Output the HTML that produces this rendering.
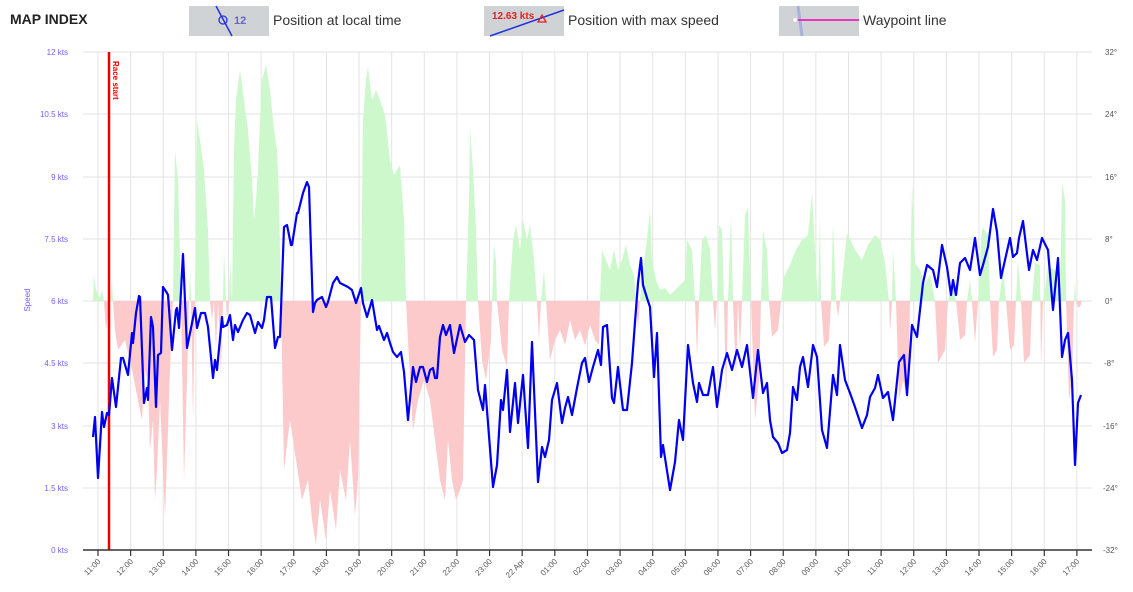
<!DOCTYPE html>
<html><head><meta charset="utf-8"><style>
html,body{margin:0;padding:0;background:#fff;width:1133px;height:592px;overflow:hidden;font-family:"Liberation Sans",sans-serif}
</style></head><body>
<svg width="1133" height="592" viewBox="0 0 1133 592" xmlns="http://www.w3.org/2000/svg" font-family="Liberation Sans, sans-serif">
<text x="10" y="24" font-size="14" font-weight="bold" fill="#222">MAP INDEX</text>
<rect x="189" y="6" width="80" height="30" fill="#cfd3d6"/>
<line x1="216" y1="6" x2="232" y2="36" stroke="#2233dd" stroke-width="1.5"/>
<circle cx="223" cy="20" r="4" fill="none" stroke="#2233dd" stroke-width="1.3"/>
<text x="234" y="24" font-size="11" font-weight="bold" fill="#6666cc">12</text>
<text x="273" y="25" font-size="14" fill="#333">Position at local time</text>
<rect x="484" y="6" width="80" height="30" fill="#cfd3d6"/>
<line x1="490" y1="36" x2="564" y2="10" stroke="#2233dd" stroke-width="1.5"/>
<text x="492" y="19" font-size="10" font-weight="bold" fill="#dd2222">12.63 kts</text>
<path d="M538 22 L542 15 L546 22 Z" fill="none" stroke="#dd2222" stroke-width="1.3"/>
<text x="568" y="25" font-size="14" fill="#333">Position with max speed</text>
<rect x="779" y="6" width="80" height="30" fill="#cfd3d6"/>
<line x1="798" y1="6" x2="802" y2="36" stroke="#aab0dd" stroke-width="3"/>
<line x1="776" y1="20" x2="1" y2="20" stroke="none"/>
<line x1="795" y1="20" x2="859" y2="20" stroke="#ee33bb" stroke-width="2"/>
<circle cx="795" cy="20" r="2.5" fill="#fff" stroke="#ccc"/>
<text x="863" y="25" font-size="14" fill="#333">Waypoint line</text>

<g stroke="#e3e3e3" stroke-width="1">
<line x1="83" y1="52" x2="1092" y2="52"/><line x1="83" y1="114" x2="1092" y2="114"/>
<line x1="83" y1="177" x2="1092" y2="177"/><line x1="83" y1="239" x2="1092" y2="239"/>
<line x1="83" y1="301" x2="1092" y2="301"/><line x1="83" y1="363" x2="1092" y2="363"/>
<line x1="83" y1="426" x2="1092" y2="426"/><line x1="83" y1="488" x2="1092" y2="488"/>
<g id="vg"></g>
</g>
<g id="vgrid" stroke="#e3e3e3"></g>
<defs>
<clipPath id="up"><rect x="83" y="40" width="1010" height="261"/></clipPath>
<clipPath id="dn"><rect x="83" y="301" width="1010" height="260"/></clipPath>
</defs>
<g id="areas"></g>
<line x1="109" y1="52" x2="109" y2="550" stroke="#ee0000" stroke-width="2.5"/>
<text transform="translate(113,61) rotate(90)" font-size="8" font-weight="bold" fill="#ee0000">Race start</text>
<g id="ylab" font-size="8" fill="#7060ff" text-anchor="end">
<text x="68" y="55">12 kts</text><text x="68" y="117">10.5 kts</text><text x="68" y="180">9 kts</text><text x="68" y="242">7.5 kts</text><text x="68" y="304">6 kts</text><text x="68" y="366">4.5 kts</text><text x="68" y="429">3 kts</text><text x="68" y="491">1.5 kts</text><text x="68" y="553">0 kts</text>
</g>
<g font-size="8" fill="#555">
<text x="1105" y="55">32°</text><text x="1105" y="117">24°</text><text x="1105" y="180">16°</text><text x="1105" y="242">8°</text><text x="1105" y="304">0°</text><text x="1104" y="366">-8°</text><text x="1103" y="429">-16°</text><text x="1103" y="491">-24°</text><text x="1103" y="553">-32°</text>
</g>
<text transform="translate(30,300) rotate(-90)" font-size="8" fill="#7060ff" text-anchor="middle">Speed</text>
<line x1="83" y1="550" x2="1092" y2="550" stroke="#333" stroke-width="1.5"/>
<g id="xt"></g>
<polyline id="spd" fill="none" stroke="#0000ee" stroke-width="2.2" stroke-linejoin="round" points="93,437 95,417 98,478 102,412 104,427 107,413 109,415 112,378 116,407 121,358 123,358 128,375 132,333 133,343 136,313 139,296 140,297 144,403 147,388 148,400 151,317 153,327 156,407 158,355 161,353 163,287 167,293 168,295 172,350 176,310 177,308 179,328 183,254 187,348 190,333 195,308 197,328 201,313 205,313 208,327 213,378 215,360 217,370 222,317 223,327 227,325 230,315 233,340 235,325 238,332 243,320 247,313 250,315 255,333 258,322 262,328 264,320 267,297 271,297 275,348 278,337 280,337 284,227 287,225 291,245 292,245 297,213 298,213 303,193 307,182 309,187 313,312 315,303 317,300 322,297 326,307 328,302 333,283 337,277 340,283 344,285 348,287 352,290 356,303 361,288 363,303 367,317 372,300 377,330 379,326 384,340 387,333 390,343 393,352 397,357 401,352 404,372 408,420 413,367 416,382 420,367 423,367 427,382 430,370 433,368 435,378 437,378 440,337 443,325 446,335 450,325 454,353 460,325 465,342 469,335 474,340 478,390 483,410 485,385 488,423 493,487 497,465 501,400 503,410 507,370 510,432 515,383 518,423 523,375 528,448 532,342 538,482 542,447 545,457 549,440 552,400 557,383 562,423 565,408 568,397 572,415 577,388 582,363 585,358 589,382 593,367 598,350 601,365 603,327 607,325 612,398 614,403 618,367 623,410 627,410 632,363 635,322 638,283 641,258 643,285 647,298 650,307 654,377 657,333 661,457 663,445 670,490 675,462 679,420 683,440 688,345 693,383 697,402 699,383 703,395 708,395 713,367 717,407 722,370 727,353 732,370 737,350 742,367 747,345 753,398 758,350 763,393 767,383 770,420 773,437 778,443 782,453 787,450 790,433 793,387 797,400 800,367 803,357 808,387 813,345 817,357 822,430 827,448 833,375 837,395 840,345 845,380 850,393 855,407 862,428 867,415 870,397 875,388 878,375 883,398 888,392 893,420 899,362 904,355 907,395 912,325 917,337 923,283 927,265 933,270 937,287 942,245 947,267 951,295 953,280 956,295 960,263 965,258 970,270 975,238 980,275 983,265 988,247 993,209 997,232 1001,278 1005,260 1010,238 1013,257 1017,253 1019,238 1023,221 1029,270 1033,250 1037,260 1042,238 1048,250 1053,310 1058,258 1062,357 1065,340 1068,333 1072,380 1075,465 1078,403 1081,395"/>
</svg>
<script>
var ns="http://www.w3.org/2000/svg";
function el(t,a,p){var e=document.createElementNS(ns,t);for(var k in a)e.setAttribute(k,a[k]);p.appendChild(e);return e;}
var vg=document.getElementById('vgrid'),xt=document.getElementById('xt');
var labs=["11:00","12:00","13:00","14:00","15:00","16:00","17:00","18:00","19:00","20:00","21:00","22:00","23:00","22 Apr","01:00","02:00","03:00","04:00","05:00","06:00","07:00","08:00","09:00","10:00","11:00","12:00","13:00","14:00","15:00","16:00","17:00"];
for(var i=0;i<31;i++){var x=98+i*32.63;
el('line',{x1:x,y1:52,x2:x,y2:550},vg);
el('line',{x1:x,y1:550,x2:x,y2:556,stroke:'#333','stroke-width':1.2},xt);
var t=el('text',{transform:'translate('+(x+3)+',562) rotate(-45)','font-size':8,fill:'#555','text-anchor':'end'},xt);t.textContent=labs[i];}
var pts=[[93,301],[94,275],[96,290],[100,298],[102,290],[104,301],[106,330],[110,301],[112,280],[113,301],[115,330],[118,350],[125,340],[132,370],[138,400],[142,420],[145,370],[148,380],[150,450],[153,420],[155,500],[157,470],[160,400],[165,517],[168,430],[171,340],[173,301],[175,150],[178,180],[180,260],[181,301],[184,480],[187,380],[189,301],[190,270],[191,301],[193,420],[195,301],[197,120],[200,140],[204,170],[208,230],[210,301],[212,320],[214,301],[216,350],[218,301],[221,370],[223,301],[224,250],[226,301],[227,320],[229,301],[230,260],[232,301],[234,150],[236,100],[240,70],[244,100],[248,130],[252,180],[254,220],[256,200],[258,170],[260,120],[262,80],[266,65],[270,90],[274,130],[277,150],[279,200],[281,301],[284,470],[290,420],[296,460],[302,500],[308,480],[312,520],[316,545],[320,500],[326,540],[330,490],[336,530],[340,470],[346,500],[350,440],[355,515],[358,480],[361,301],[363,120],[366,80],[368,67],[372,100],[376,90],[380,100],[385,115],[390,160],[394,175],[400,165],[404,220],[406,301],[410,380],[413,430],[418,400],[424,380],[430,400],[435,440],[440,480],[445,500],[448,440],[452,480],[456,500],[460,490],[463,480],[466,301],[469,200],[470,128],[473,170],[476,230],[478,301],[482,360],[486,380],[491,340],[492,301],[494,245],[496,260],[497,301],[502,350],[507,367],[509,301],[513,240],[516,225],[520,250],[523,220],[527,240],[530,225],[534,260],[537,301],[539,340],[541,301],[544,270],[546,301],[550,360],[555,340],[560,330],[565,345],[570,320],[575,340],[580,330],[585,345],[590,325],[595,340],[599,345],[600,301],[602,250],[606,260],[610,270],[614,250],[618,270],[622,260],[626,245],[630,265],[634,275],[636,301],[638,330],[640,301],[643,270],[647,240],[650,210],[652,260],[656,280],[660,290],[665,288],[670,295],[675,290],[680,285],[685,280],[687,240],[692,250],[695,301],[697,357],[699,301],[702,240],[706,235],[710,250],[713,301],[715,330],[717,301],[719,225],[722,230],[724,301],[726,400],[728,301],[731,215],[733,301],[736,380],[738,301],[740,350],[742,301],[745,215],[748,207],[751,301],[755,420],[759,380],[761,301],[763,230],[767,250],[769,301],[772,337],[778,330],[781,301],[784,277],[790,265],[796,250],[802,240],[808,235],[812,193],[815,250],[818,301],[820,217],[821,301],[824,347],[829,340],[831,301],[833,223],[836,301],[838,317],[840,301],[847,233],[855,250],[862,260],[868,245],[875,235],[880,240],[885,263],[889,301],[890,333],[892,301],[893,250],[896,301],[899,400],[903,380],[908,400],[910,301],[912,183],[915,263],[920,270],[925,283],[930,275],[935,301],[938,363],[945,350],[948,301],[952,280],[956,301],[960,340],[965,335],[967,301],[970,280],[972,301],[975,343],[978,301],[982,227],[988,235],[990,301],[993,357],[997,350],[999,301],[1003,270],[1006,301],[1010,350],[1014,345],[1016,301],[1018,260],[1021,301],[1024,363],[1030,355],[1032,301],[1035,263],[1040,265],[1041,367],[1043,301],[1048,267],[1055,270],[1060,300],[1062,183],[1065,200],[1066,301],[1069,400],[1072,380],[1074,301],[1075,280],[1076,301],[1078,307],[1080,307],[1082,301]];
var d="M93,301 "+pts.map(function(p){return "L"+p[0]+","+p[1]}).join(" ")+" L1082,301 Z";
var ar=document.getElementById('areas');
el('path',{d:d,fill:'#ccf8cc','clip-path':'url(#up)'},ar);
el('path',{d:d,fill:'#fccaca','clip-path':'url(#dn)'},ar);
</script>
</body></html>
